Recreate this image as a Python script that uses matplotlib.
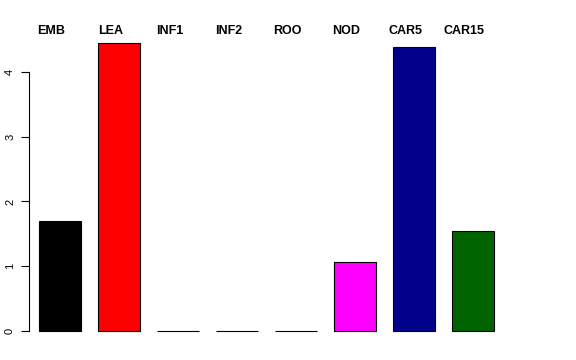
import matplotlib
matplotlib.use("Agg")
import matplotlib.pyplot as plt
import numpy as np

plt.rcParams['font.family'] = ['Liberation Sans', 'DejaVu Sans']

# values
tissues = ["EMB", "LEA", "INF1", "INF2", "ROO", "NOD", "CAR5", "CAR15"]
expr = [1.70, 4.44, 0.0, 0.0, 0.0, 1.06, 4.39, 1.54]
colours = ["black", "red", "green", "blue", "brown", "magenta", "#00008B", "#006400"]
yticks = [0, 1, 2, 3, 4]

W, H = 576, 360
fig = plt.figure(figsize=(W / 100, H / 100), dpi=100)

# axes placed in pixel terms to mimic the R barplot layout
left_px, right_px, top_px, bottom_px = 29, 520, 20, 340
ax = fig.add_axes([left_px / W, 1 - bottom_px / H,
                   (right_px - left_px) / W, (bottom_px - top_px) / H])

step = 59.0          # px between bar centres
x0 = 59.5            # px of first bar centre
y0 = 331.0           # px of zero
per_unit = 64.8      # px per y unit

x = np.arange(len(tissues))
ax.bar(x, expr, width=42 / step, color=colours, edgecolor="black", linewidth=0.8)

ax.set_xlim((left_px - x0) / step, (right_px - x0) / step)
ax.set_ylim(-(bottom_px - y0) / per_unit, (y0 - top_px) / per_unit)

for s in ["top", "right", "bottom"]:
    ax.spines[s].set_visible(False)
ax.spines["left"].set_bounds(0, 4)
ax.spines["left"].set_linewidth(0.8)
ax.set_xticks([])
ax.set_yticks(yticks)
ax.set_yticklabels([str(t) for t in yticks], rotation=90, va="center", fontsize=8)
ax.tick_params(axis="y", length=6, width=0.8, pad=4)

# tissue labels across the top, slightly left of bar centres
label_y = (y0 - 30.5) / per_unit
for i, name in enumerate(tissues):
    ax.text(i - 8 / step, label_y, name, ha="center", va="center",
            fontsize=9, fontweight="bold")

fig.savefig("out.png", dpi=100)
